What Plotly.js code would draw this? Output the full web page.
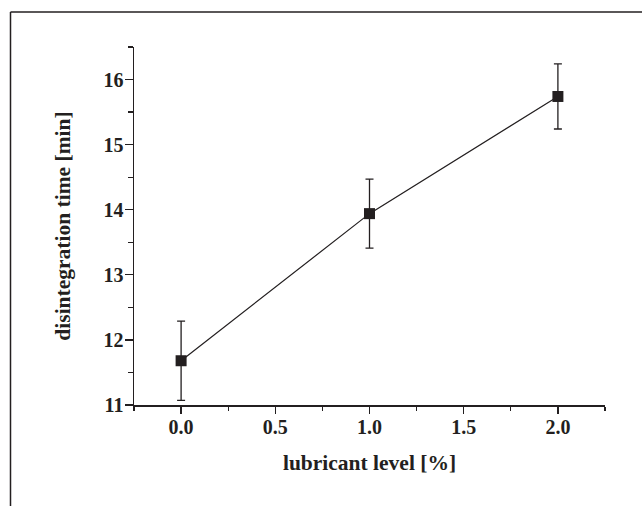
<!DOCTYPE html>
<html>
<head>
<meta charset="utf-8">
<script src="https://cdn.plot.ly/plotly-3.0.1.min.js"></script>
<style>html,body{margin:0;padding:0;background:#fff;}#chart{width:642px;height:506px;}</style>
</head>
<body>
<div id="chart"></div>
<script>
const lubricantLevel = [0.0, 1.0, 2.0];
const disintegrationTime = [11.68, 13.94, 15.74];
const errorValues = [0.61, 0.53, 0.50];
const xTickVals = [0.0, 0.5, 1.0, 1.5, 2.0];
const xTickText = ['0.0', '0.5', '1.0', '1.5', '2.0'];
const yTickVals = [11, 12, 13, 14, 15, 16];
const yTickText = ['11', '12', '13', '14', '15', '16'];

const ink = '#231f20';
const serif = '"Liberation Serif", "Times New Roman", serif';

const trace = {
  x: lubricantLevel,
  y: disintegrationTime,
  type: 'scatter',
  mode: 'lines+markers',
  line: {color: ink, width: 1.2},
  marker: {symbol: 'square', size: 11, color: ink},
  error_y: {type: 'data', array: errorValues, visible: true, color: ink, thickness: 1.3, width: 4},
  cliponaxis: false,
  showlegend: false
};

const layout = {
  width: 642,
  height: 506,
  margin: {l: 134, r: 37, t: 47, b: 101},
  paper_bgcolor: '#fff',
  plot_bgcolor: '#fff',
  font: {family: serif, color: ink},
  xaxis: {
    range: [-0.25, 2.25],
    tickvals: xTickVals,
    ticktext: xTickText,
    ticks: 'outside', ticklen: 7, tickwidth: 1.3, tickcolor: ink,
    ticklabelstandoff: -4,
    minor: {dtick: 0.25, ticks: 'outside', ticklen: 4, tickwidth: 1.3, tickcolor: ink, showgrid: false},
    showline: true, linecolor: ink, linewidth: 1.5,
    showgrid: false, zeroline: false,
    tickfont: {family: serif, size: 20, color: ink, weight: 'bold'},
    title: {text: '<b>lubricant level [%]</b>', font: {family: serif, size: 21.5, color: ink}, standoff: 18}
  },
  yaxis: {
    range: [11, 16.5],
    tickvals: yTickVals,
    ticktext: yTickText,
    ticks: 'outside', ticklen: 8, tickwidth: 1.3, tickcolor: ink,
    ticklabelstandoff: -3,
    minor: {dtick: 0.5, ticks: 'outside', ticklen: 5, tickwidth: 1.3, tickcolor: ink, showgrid: false},
    showline: true, linecolor: ink, linewidth: 1.5,
    showgrid: false, zeroline: false,
    tickfont: {family: serif, size: 20, color: ink, weight: 'bold'},
    title: {text: '<b>disintegration time [min]</b>', font: {family: serif, size: 21.5, color: ink}, standoff: 27}
  },
  shapes: [
    {type: 'line', xref: 'paper', yref: 'paper', x0: -0.2622, x1: 1.08, y0: 1.0978, y1: 1.0978, line: {color: ink, width: 1.5}},
    {type: 'line', xref: 'paper', yref: 'paper', x0: -0.2622, x1: -0.2622, y0: 1.0978, y1: -0.29, line: {color: ink, width: 1.5}}
  ]
};

Plotly.newPlot('chart', [trace], layout, {displayModeBar: false, staticPlot: true});
</script>
</body>
</html>
